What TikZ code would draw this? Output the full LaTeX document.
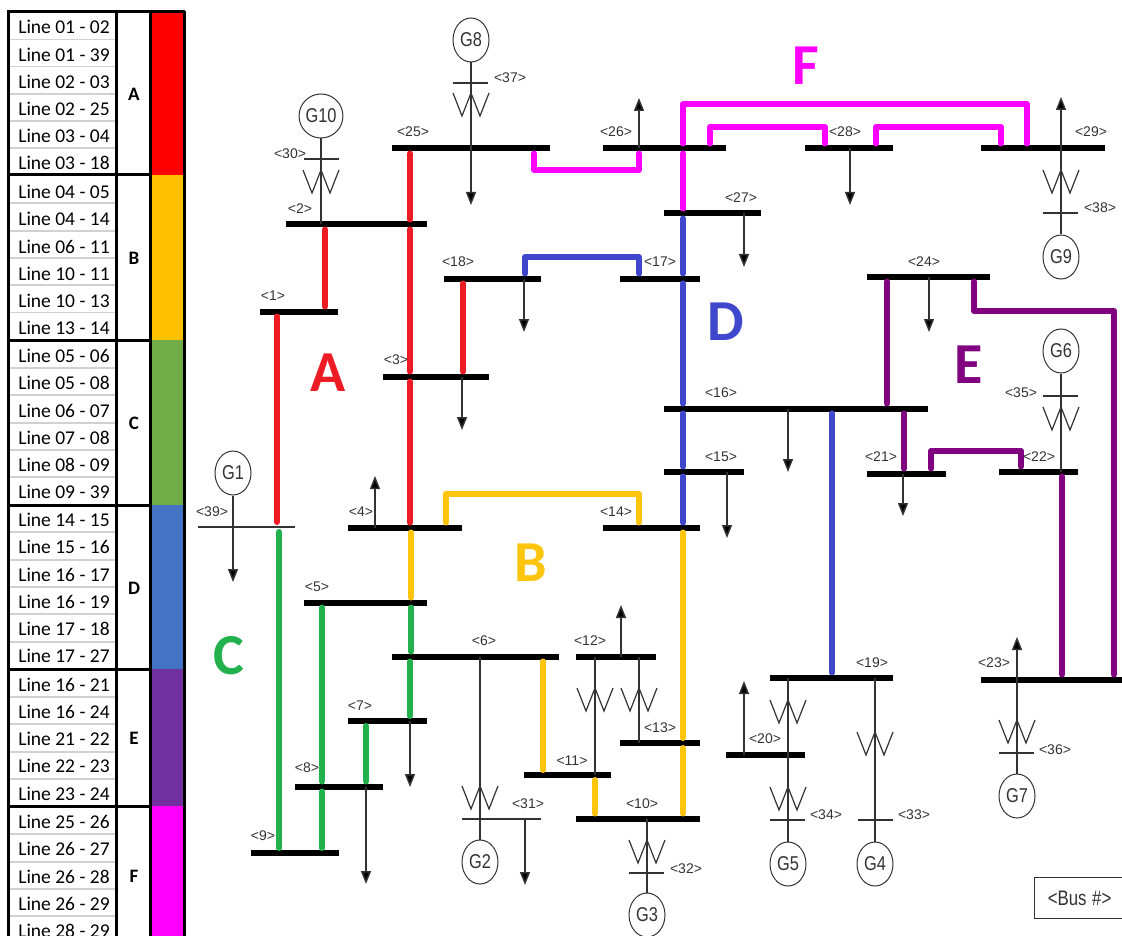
\documentclass[tikz,border=0pt]{standalone}
\usepackage{fontspec}
\setmainfont{Liberation Sans}
\newfontfamily\carlito{Carlito}
\usetikzlibrary{arrows.meta,shapes.geometric}
\definecolor{cRed}{HTML}{ED1C24}
\definecolor{cYel}{HTML}{FFC40C}
\definecolor{cGrn}{HTML}{22B14C}
\definecolor{cBlu}{HTML}{3F48CC}
\definecolor{cPur}{HTML}{800080}
\definecolor{cMag}{HTML}{FF00FF}
\definecolor{inkc}{HTML}{333333}
\definecolor{tA}{HTML}{FF0000}
\definecolor{tB}{HTML}{FFC000}
\definecolor{tC}{HTML}{70AD47}
\definecolor{tD}{HTML}{4472C4}
\definecolor{tE}{HTML}{7030A0}
\definecolor{tF}{HTML}{FF00FF}
\tikzset{
  busbar/.style={fill=black,inner sep=0pt,minimum height=6pt,rectangle},
  thinbus/.style={fill=inkc,inner sep=0pt,minimum height=1.5pt,rectangle},
  wire/.style={line width=6pt,line cap=round,line join=round,shorten <=5pt,shorten >=5pt},
  feeder/.style={line width=1.5pt,draw=inkc},
  loadarrow/.style={feeder,-{Triangle[length=13pt,width=10pt,fill=black]}},
  gen/.style={ellipse,draw=inkc,line width=1pt,fill=white,minimum width=36pt,minimum height=44pt,inner sep=0pt,font=\fontsize{20}{20}\selectfont,text=inkc},
  buslabel/.style={inner sep=0pt,font=\fontsize{14}{14}\selectfont,text=inkc},
  bigletter/.style={inner sep=0pt,font=\carlito\bfseries\fontsize{58}{58}\selectfont},
  rowlabel/.style={inner sep=0pt,font=\carlito\fontsize{19.5}{20}\selectfont,text=black},
  grouplabel/.style={inner sep=0pt,font=\carlito\bfseries\fontsize{19}{20}\selectfont,text=black},
  tablerule/.style={line width=3pt,draw=black},
  rowrule/.style={line width=1.5pt,draw=black!18}
}
\newcommand{\busn}[4]{\pgfmathsetmacro{\bw}{#3-#2}\pgfmathsetmacro{\bc}{(#3+#2)/2}%
  \node[busbar,minimum width=\bw pt] (#1) at (\bc,#4) {};}
\newcommand{\tbus}[4]{\pgfmathsetmacro{\bw}{#3-#2}\pgfmathsetmacro{\bc}{(#3+#2)/2}%
  \node[thinbus,minimum width=\bw pt] (#1) at (\bc,#4) {};}
\newcommand{\wind}[2]{\draw[line width=1.2pt,draw=inkc,line join=miter]
  ({#1-18},{#2}) -- ({#1-9},{#2+23}) -- ({#1},{#2}) -- ({#1+9},{#2+23}) -- ({#1+18},{#2});}
\begin{document}
\begin{tikzpicture}[x=1pt,y=-1pt]
\clip (0,0) rectangle (1122,936);
\fill[white] (0,0) rectangle (1122,936);
% ---------- legend table
\fill[tA] (151,12) rectangle (184,175);
\fill[tB] (151,175) rectangle (184,340);
\fill[tC] (151,340) rectangle (184,505);
\fill[tD] (151,505) rectangle (184,669);
\fill[tE] (151,669) rectangle (184,806);
\fill[tF] (151,806) rectangle (184,940);
\foreach \y in {39.5,66.5,94,121,148,203,231,258,285,312.5,368,395,423,450,477,532,560,587,614,642,697,724,752,779,834,862,889,916}
  \draw[rowrule] (9,\y) -- (115,\y);
\foreach \y in {175,340,505,669,806} \draw[tablerule] (7,\y) -- (151,\y);
\draw[tablerule] (7,12) -- (185,12);
\foreach \x in {8.5,116.5,150,184} \draw[tablerule] (\x,11) -- (\x,940);
\foreach \y/\t [count=\i] in {
 26.5/01 - 02,54.5/01 - 39,81.5/02 - 03,108.5/02 - 25,135.5/03 - 04,162.5/03 - 18,
 191.5/04 - 05,218.5/04 - 14,246.5/06 - 11,273.5/10 - 11,300.5/10 - 13,327.5/13 - 14,
 355.5/05 - 06,382.5/05 - 08,410.5/06 - 07,437.5/07 - 08,464.5/08 - 09,491.5/09 - 39,
 519.5/14 - 15,546.5/15 - 16,574.5/16 - 17,601.5/16 - 19,628.5/17 - 18,655.5/17 - 27,
 684.5/16 - 21,711.5/16 - 24,738.5/21 - 22,765.5/22 - 23,793.5/23 - 24,
 821.5/25 - 26,848.5/26 - 27,876.5/26 - 28,903.5/26 - 29,930.5/28 - 29}
  \node[rowlabel] (row\i) at (64,\y) {Line \t};
\foreach \y/\t in {94/A,258/B,423/C,588/D,738/E,876/F}
  \node[grouplabel] (grp\t) at (134,\y) {\t};
% ---------- bus bars
\busn{b1}{260}{338}{311.5}
\busn{b2}{286}{427}{224.5}
\busn{b3}{383}{489}{376.5}
\busn{b4}{348}{462}{527.5}
\busn{b5}{304}{427}{602.5}
\busn{b6}{392}{559}{656.5}
\busn{b7}{348}{427}{721}
\busn{b8}{295}{383}{786.5}
\busn{b9}{251}{339}{853}
\busn{b10}{576}{700}{818.5}
\busn{b11}{524}{611}{775}
\busn{b12}{576}{656}{656.5}
\busn{b13}{620}{700}{743}
\busn{b14}{603}{700}{527.5}
\busn{b15}{664}{744}{471.5}
\busn{b16}{664}{928}{408.5}
\busn{b17}{620}{700}{278.5}
\busn{b18}{444}{541}{278.5}
\busn{b19}{770}{893}{677.5}
\busn{b20}{726}{805}{755}
\busn{b21}{867}{946}{473.5}
\busn{b22}{999}{1078}{471.5}
\busn{b23}{981}{1124}{679.5}
\busn{b24}{867}{990}{276.5}
\busn{b25}{392}{550}{148.5}
\busn{b26}{603}{726}{148.5}
\busn{b27}{664}{761}{213.5}
\busn{b28}{805}{893}{148.5}
\busn{b29}{981}{1105}{148.5}
\tbus{b30}{304}{339}{159}
\tbus{b31}{462}{541}{819}
\tbus{b32}{629}{664}{873}
\tbus{b33}{858}{893}{820}
\tbus{b34}{770}{805}{820}
\tbus{b35}{1043}{1078}{396}
\tbus{b36}{999}{1034}{753}
\tbus{b37}{453}{488}{83}
\tbus{b38}{1043}{1078}{213}
\tbus{b39}{198}{295}{527}
% ---------- generators
\foreach \n/\x/\y in {G10/321/116,G8/471/40,G1/233/473,G2/480/862,G3/647/915,G4/875/864,G5/788/864,G6/1061/351,G7/1017/796,G9/1061/257}
  \node[gen] (\n) at (\x,\y) {\scalebox{.82}[1]{\n}};
% ---------- black feeders
\draw[feeder] (G10) -- (321,0 |- b2);
\draw[loadarrow] (G8) -- (471,205);
\draw[loadarrow] (G1) -- (233,582);
\draw[feeder] (480,0 |- b6) -- (G2);
\draw[loadarrow] (525,0 |- b31) -- (525,885);
\draw[loadarrow] (639,0 |- b26) -- (639,98);
\draw[loadarrow] (850,0 |- b28) -- (850,205);
\draw[loadarrow] (1061,0 |- b29) -- (1061,97);
\draw[feeder] (1061,0 |- b29) -- (G9);
\draw[loadarrow] (744,0 |- b27) -- (744,267);
\draw[loadarrow] (524,0 |- b18) -- (524,332);
\draw[loadarrow] (462,0 |- b3) -- (462,430);
\draw[loadarrow] (375,0 |- b4) -- (375,476);
\draw[loadarrow] (410,0 |- b7) -- (410,787);
\draw[loadarrow] (366,0 |- b8) -- (366,884);
\draw[loadarrow] (788,0 |- b16) -- (788,472);
\draw[loadarrow] (727,0 |- b15) -- (727,538);
\draw[loadarrow] (903,0 |- b21) -- (903,516);
\draw[loadarrow] (929,0 |- b24) -- (929,332);
\draw[feeder] (G6) -- (1061,0 |- b22);
\draw[loadarrow] (621,0 |- b12) -- (621,605);
\draw[feeder] (595,0 |- b12) -- (595,0 |- b11);
\draw[feeder] (639,0 |- b12) -- (639,0 |- b13);
\draw[loadarrow] (744,0 |- b20) -- (744,681);
\draw[feeder] (788,0 |- b19) -- (G5);
\draw[feeder] (875,0 |- b19) -- (G4);
\draw[loadarrow] (1017,0 |- b23) -- (1017,637);
\draw[feeder] (1017,0 |- b23) -- (G7);
\draw[feeder] (647,0 |- b10) -- (G3);
% ---------- transformer windings
\wind{321}{170}\wind{471}{93}\wind{595}{688}\wind{639}{688}\wind{480}{786}
\wind{647}{840}\wind{788}{700}\wind{788}{787}\wind{875}{732}\wind{1017}{720}
\wind{1061}{170}\wind{1061}{407}
% ---------- area A
\draw[wire,cRed] (277,0 |- b1) -- (277,0 |- b39);
\draw[wire,cRed] (325,0 |- b2) -- (325,0 |- b1);
\draw[wire,cRed] (410,0 |- b25) -- (410,0 |- b2);
\draw[wire,cRed] (410,0 |- b2) -- (410,0 |- b3);
\draw[wire,cRed] (410,0 |- b3) -- (410,0 |- b4);
\draw[wire,cRed] (463,0 |- b18) -- (463,0 |- b3);
% ---------- area B
\draw[wire,cYel] (411,0 |- b4) -- (411,0 |- b5);
\draw[wire,cYel] (446,0 |- b4) -- (446,494) -- (639,494) -- (639,0 |- b14);
\draw[wire,cYel] (683,0 |- b14) -- (683,0 |- b13);
\draw[wire,cYel] (683,0 |- b13) -- (683,0 |- b10);
\draw[wire,cYel] (543,0 |- b6) -- (543,0 |- b11);
\draw[wire,cYel] (595,0 |- b11) -- (595,0 |- b10);
% ---------- area C
\draw[wire,cGrn] (279,0 |- b39) -- (279,0 |- b9);
\draw[wire,cGrn] (411,0 |- b5) -- (411,0 |- b6);
\draw[wire,cGrn] (410,0 |- b6) -- (410,0 |- b7);
\draw[wire,cGrn] (322,0 |- b5) -- (322,0 |- b8);
\draw[wire,cGrn] (322,0 |- b8) -- (322,0 |- b9);
\draw[wire,cGrn] (366,0 |- b7) -- (366,0 |- b8);
% ---------- area D
\draw[wire,cBlu] (683,0 |- b27) -- (683,0 |- b17);
\draw[wire,cBlu] (683,0 |- b17) -- (683,0 |- b16);
\draw[wire,cBlu] (683,0 |- b16) -- (683,0 |- b15);
\draw[wire,cBlu] (683,0 |- b15) -- (683,0 |- b14);
\draw[wire,cBlu] (832,0 |- b16) -- (832,0 |- b19);
\draw[wire,cBlu] (525,0 |- b18) -- (525,257) -- (639,257) -- (639,0 |- b17);
% ---------- area E
\draw[wire,cPur] (887,0 |- b24) -- (887,0 |- b16);
\draw[wire,cPur] (904,0 |- b16) -- (904,0 |- b21);
\draw[wire,cPur] (931,0 |- b21) -- (931,451) -- (1021,451) -- (1021,0 |- b22);
\draw[wire,cPur] (1062,0 |- b22) -- (1062,0 |- b23);
\draw[wire,cPur] (974,0 |- b24) -- (974,311) -- (1114,311) -- (1114,0 |- b23);
% ---------- area F
\draw[wire,cMag] (534,0 |- b25) -- (534,170) -- (639,170) -- (639,0 |- b26);
\draw[wire,cMag] (683,0 |- b26) -- (683,0 |- b27);
\draw[wire,cMag] (683,0 |- b26) -- (683,104) -- (1027,104) -- (1027,0 |- b29);
\draw[wire,cMag] (710,0 |- b26) -- (710,127) -- (825,127) -- (825,0 |- b28);
\draw[wire,cMag] (876,0 |- b28) -- (876,127) -- (1001,127) -- (1001,0 |- b29);
% ---------- bus labels
\foreach \n/\x/\y in {1/273/296,2/300/209,3/396/360,4/361/512,5/317/587,6/484/641,7/360/706,8/307/768,9/263/836,
 10/642/804,11/572/761,12/590/641,13/660/728,14/616/512,15/721/457,16/721/393,17/660/262,18/458/262,19/872/663,
 20/765/739,21/881/457,22/1039/457,23/994/663,24/924/262,25/413/132,26/616/132,27/741/198,28/845/132,29/1091/132,
 30/290/154,31/528/804,32/686/869,33/914/815,34/826/815,35/1021/393,36/1055/750,37/510/78,38/1100/208,39/212/512}
  \node[buslabel] (lab\n) at (\x,\y) {<\n>};
% ---------- area letters
\node[bigletter,text=cRed] (letA) at (328,373) {A};
\node[bigletter,text=cYel] (letB) at (531,563) {B};
\node[bigletter,text=cGrn] (letC) at (229,656) {C};
\node[bigletter,text=cBlu] (letD) at (726,322) {D};
\node[bigletter,text=cPur] (letE) at (969,365) {E};
\node[bigletter,text=cMag] (letF) at (806,66) {F};
% ---------- key
\node[draw=inkc,line width=1.2pt,minimum width=90pt,minimum height=41pt,inner sep=0pt,anchor=west,font=\fontsize{21}{21}\selectfont,text=inkc,text width=88pt,align=center] (key) at (1034,898) {\scalebox{.8}[1]{<Bus \#>}};
\end{tikzpicture}
\end{document}
